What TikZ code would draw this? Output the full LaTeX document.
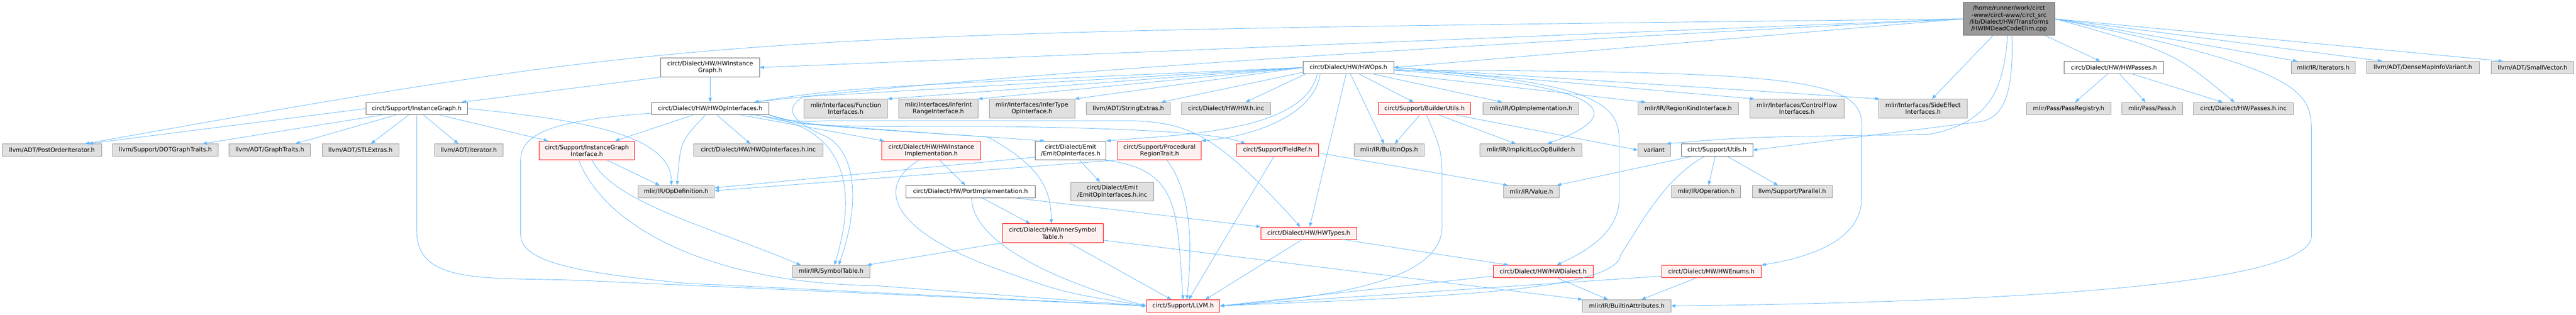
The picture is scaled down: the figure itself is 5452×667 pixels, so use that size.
\documentclass[tikz,border=0pt]{standalone}
\usepackage{fontspec}
\setmainfont{DejaVu Sans}
\usetikzlibrary{arrows.meta}

\definecolor{edgeblue}{HTML}{63B8FF}
\definecolor{boxgray}{HTML}{E0E0E0}
\definecolor{linegray}{HTML}{999999}
\definecolor{darkline}{HTML}{666666}
\definecolor{pinkfill}{HTML}{FFF0F0}

\begin{document}
\begin{tikzpicture}[x=1pt, y=-1pt,
    font=\fontsize{12.6}{14.5}\selectfont,
    hbox/.style={draw, rectangle, align=center, inner xsep=3pt, inner ysep=2pt, minimum height=26pt, line width=1pt},
    gbox/.style={hbox, draw=linegray, fill=boxgray},
    wbox/.style={hbox, draw=darkline, fill=white},
    rbox/.style={hbox, draw=red, fill=pinkfill},
    mbox/.style={hbox, draw=darkline, fill=linegray, minimum height=70pt},
    two/.style={minimum height=40pt},
    incl/.style={draw=edgeblue, line width=0.9pt, -{Triangle[length=9pt, width=7pt]}}]

    \useasboundingbox (0,0) rectangle (5452,667);

    % source file
    \node[mbox, minimum width=195pt] (DCE) at (4252,40) {/home/runner/work/circt\\-www/circt-www/circt\_src\\/lib/Dialect/HW/Transforms\\/HWIMDeadCodeElim.cpp};

    % first level
    \node[wbox, two, minimum width=209pt] (HIG) at (1503,143) {circt/Dialect/HW/HWInstance\\Graph.h};
    \node[wbox, minimum width=191pt] (HO) at (2854,143) {circt/Dialect/HW/HWOps.h};
    \node[wbox, minimum width=211pt] (HP) at (4474,143) {circt/Dialect/HW/HWPasses.h};
    \node[gbox, minimum width=136pt] (IT) at (4917,143) {mlir/IR/Iterators.h};
    \node[gbox, minimum width=239pt] (DMV) at (5128,143) {llvm/ADT/DenseMapInfoVariant.h};
    \node[gbox, minimum width=175pt] (SV) at (5360,143) {llvm/ADT/SmallVector.h};

    % second level
    \node[wbox, minimum width=214pt] (IG) at (882,230) {circt/Support/InstanceGraph.h};
    \node[wbox, minimum width=249pt] (HOI) at (1503,230) {circt/Dialect/HW/HWOpInterfaces.h};
    \node[gbox, two, minimum width=176pt] (FI) at (1790,230) {mlir/Interfaces/Function\\Interfaces.h};
    \node[gbox, two, minimum width=168pt] (IIR) at (1986,230) {mlir/Interfaces/InferInt\\RangeInterface.h};
    \node[gbox, two, minimum width=181pt] (ITO) at (2184,230) {mlir/Interfaces/InferType\\OpInterface.h};
    \node[gbox, minimum width=177pt] (SX) at (2388,230) {llvm/ADT/StringExtras.h};
    \node[gbox, minimum width=188pt] (HINC) at (2595,230) {circt/Dialect/HW/HW.h.inc};
    \node[rbox, minimum width=196pt] (BU) at (3015,230) {circt/Support/BuilderUtils.h};
    \node[gbox, minimum width=203pt] (OPI) at (3240,230) {mlir/IR/OpImplementation.h};
    \node[gbox, minimum width=213pt] (RKI) at (3573,230) {mlir/IR/RegionKindInterface.h};
    \node[gbox, two, minimum width=199pt] (CFI) at (3803,230) {mlir/Interfaces/ControlFlow\\Interfaces.h};
    \node[gbox, two, minimum width=187pt] (SEI) at (4070,230) {mlir/Interfaces/SideEffect\\Interfaces.h};
    \node[gbox, minimum width=179pt] (PR) at (4378,230) {mlir/Pass/PassRegistry.h};
    \node[gbox, minimum width=128pt] (PS) at (4555,230) {mlir/Pass/Pass.h};
    \node[gbox, minimum width=211pt] (PINC) at (4748,230) {circt/Dialect/HW/Passes.h.inc};

    % third level
    \node[gbox, minimum width=211pt] (POI) at (110,318) {llvm/ADT/PostOrderIterator.h};
    \node[gbox, minimum width=223pt] (DGT) at (350,318) {llvm/Support/DOTGraphTraits.h};
    \node[gbox, minimum width=172pt] (GT) at (571,318) {llvm/ADT/GraphTraits.h};
    \node[gbox, minimum width=163pt] (STL) at (763,318) {llvm/ADT/STLExtras.h};
    \node[gbox, minimum width=145pt] (ITR) at (992,318) {llvm/ADT/iterator.h};
    \node[rbox, two, minimum width=202pt] (IGI) at (1242,319) {circt/Support/InstanceGraph\\Interface.h};
    \node[gbox, minimum width=273pt] (HOINC) at (1605,318) {circt/Dialect/HW/HWOpInterfaces.h.inc};
    \node[rbox, two, minimum width=210pt] (HII) at (1971,319) {circt/Dialect/HW/HWInstance\\Implementation.h};
    \node[wbox, two, minimum width=150pt] (EOI) at (2266,319) {circt/Dialect/Emit\\/EmitOpInterfaces.h};
    \node[rbox, two, minimum width=177pt] (PRT) at (2454,319) {circt/Support/Procedural\\RegionTrait.h};
    \node[rbox, minimum width=173pt] (FR) at (2704,318) {circt/Support/FieldRef.h};
    \node[gbox, minimum width=149pt] (BO) at (2940,318) {mlir/IR/BuiltinOps.h};
    \node[gbox, minimum width=215pt] (ILB) at (3240,318) {mlir/IR/ImplicitLocOpBuilder.h};
    \node[gbox, minimum width=68pt] (VAR) at (3501,318) {variant};
    \node[wbox, minimum width=151pt] (UT) at (3634,318) {circt/Support/Utils.h};

    % fourth level
    \node[gbox, minimum width=162pt] (OD) at (1431,406) {mlir/IR/OpDefinition.h};
    \node[wbox, minimum width=274pt] (PI) at (2054,406) {circt/Dialect/HW/PortImplementation.h};
    \node[gbox, two, minimum width=175pt] (EINC) at (2354,406) {circt/Dialect/Emit\\/EmitOpInterfaces.h.inc};
    \node[gbox, minimum width=117pt] (VAL) at (3241,406) {mlir/IR/Value.h};
    \node[gbox, minimum width=146pt] (OP) at (3611,406) {mlir/IR/Operation.h};
    \node[gbox, minimum width=169pt] (PAR) at (3793,406) {llvm/Support/Parallel.h};

    % lower levels
    \node[rbox, two, minimum width=214pt] (IST) at (2228,494) {circt/Dialect/HW/InnerSymbol\\Table.h};
    \node[rbox, minimum width=203pt] (HT) at (2770,494) {circt/Dialect/HW/HWTypes.h};
    \node[gbox, minimum width=164pt] (ST) at (1759,575) {mlir/IR/SymbolTable.h};
    \node[rbox, minimum width=212pt] (HD) at (3266,575) {circt/Dialect/HW/HWDialect.h};
    \node[rbox, minimum width=211pt] (HE) at (3622,575) {circt/Dialect/HW/HWEnums.h};
    \node[rbox, minimum width=155pt] (LL) at (2504,648) {circt/Support/LLVM.h};
    \node[gbox, minimum width=187pt] (BA) at (3443,648) {mlir/IR/BuiltinAttributes.h};

    % includes of the source file
    \draw[incl] (DCE.west) .. controls (1500,70) and (1500,70) .. ([xshift=70pt]POI.north);
    \draw[incl] (DCE.west) -- (HIG.east);
    \draw[incl] (DCE.west) -- (HO.east);
    \draw[incl] (DCE.west) .. controls (2700,115) and (2000,170) .. ([xshift=93pt]HOI.north);
    \draw[incl] (DCE) -- (HP);
    \draw[incl] (DCE.east) .. controls (4600,110) .. ([xshift=-19pt]PINC.north);
    \draw[incl] (DCE.east) -- ([xshift=-55pt]IT.north);
    \draw[incl] (DCE.east) -- ([xshift=-86pt]DMV.north);
    \draw[incl] (DCE.east) -- ([xshift=-63pt]SV.north);
    \draw[incl] ([xshift=-34pt]DCE.south) -- ([xshift=19pt]SEI.north);
    \draw[incl] ([xshift=-3pt]DCE.south) .. controls (4240,180) and (4220,260) .. (4080,285) .. controls (3700,290) .. ([xshift=26pt]VAR.north);
    \draw[incl] ([xshift=6pt]DCE.south) .. controls (4262,200) and (4240,250) .. (4190,258) -- (UT.east);
    \draw[incl] (DCE.east) .. controls (4900,150) and (4892,200) .. (4892,290) -- (4892,500) .. controls (4892,600) and (4300,640) .. (BA.east);

    % HWInstanceGraph.h
    \draw[incl] (HIG.south west) -- ([xshift=95pt]IG.north);
    \draw[incl] (HIG) -- (HOI);

    % InstanceGraph.h
    \draw[incl] (IG.west) -- ([xshift=77pt]POI.north);
    \draw[incl] ([xshift=-73pt]IG.south) -- ([xshift=79pt]DGT.north);
    \draw[incl] ([xshift=-44pt]IG.south) -- ([xshift=54pt]GT.north);
    \draw[incl] ([xshift=-17pt]IG.south) -- ([xshift=22pt]STL.north);
    \draw[incl] ([xshift=14pt]IG.south) -- ([xshift=-22pt]ITR.north);
    \draw[incl] ([xshift=48pt]IG.south) -- ([xshift=-82pt]IGI.north);
    \draw[incl] (IG.south) -- (882,490) .. controls (882,610) and (1050,585) .. (1250,595) -- (LL.west);
    \draw[incl] (IG.east) .. controls (1250,255) and (1420,290) .. ([xshift=-10pt]OD.north);

    % InstanceGraphInterface.h
    \draw[incl] ([xshift=43pt]IGI.south) -- ([xshift=-35pt]OD.north);
    \draw[incl] ([xshift=11pt]IGI.south) .. controls (1300,430) and (1500,480) .. ([xshift=-64pt]ST.north);
    \draw[incl] ([xshift=-17pt]IGI.south) .. controls (1280,480) and (1500,600) .. (1850,605) -- (LL.west);

    % HWOpInterfaces.h
    \draw[incl] ([xshift=-36pt]HOI.south) -- ([xshift=60pt]IGI.north);
    \draw[incl] ([xshift=-10pt]HOI.south) .. controls (1440,300) .. ([xshift=2pt]OD.north);
    \draw[incl] ([xshift=14pt]HOI.south) -- ([xshift=-17pt]HOINC.north);
    \draw[incl] ([xshift=64pt]HOI.south) -- ([xshift=-100pt]HII.north);
    \draw[incl] ([xshift=84pt]HOI.south) .. controls (1830,260) and (1800,450) .. ([xshift=7pt]ST.north);
    \draw[incl] (HOI.south east) .. controls (1700,265) .. (2090,290) .. controls (2200,350) and (2225,400) .. ([xshift=-3pt]IST.north);
    \draw[incl] (HOI.south east) .. controls (1680,258) .. (1750,256) -- (2400,256) .. controls (2520,260) and (2580,290) .. ([xshift=-18pt]HT.north);
    \draw[incl] ([xshift=100pt]HOI.south) .. controls (1700,268) .. (2100,268) .. controls (2500,272) and (2600,290) .. ([xshift=-68pt]FR.north);
    \draw[incl] (HOI.south east) .. controls (1680,262) .. ([xshift=-55pt]EOI.north);
    \draw[incl] ([yshift=-10pt]HOI.west) .. controls (1150,255) and (1102,290) .. (1102,340) -- (1102,498) .. controls (1102,560) and (1250,580) .. (1450,600) -- (LL.west);

    % HWInstanceImplementation.h and PortImplementation.h
    \draw[incl] ([xshift=18pt]HII.south) -- ([xshift=-11pt]PI.north);
    \draw[incl] ([xshift=-26pt]HII.south) .. controls (1860,390) and (1870,480) .. (2100,566) .. controls (2250,620) .. (LL.west);
    \draw[incl] ([xshift=25pt]PI.south) -- ([xshift=-48pt]IST.north);
    \draw[incl] ([xshift=95pt]PI.south) -- (HT.north west);
    \draw[incl] ([xshift=2pt]PI.south) .. controls (2060,520) and (2250,600) .. (LL.west);

    % EmitOpInterfaces.h, ProceduralRegionTrait.h, FieldRef.h
    \draw[incl] ([yshift=-14pt]EOI.west) -- ([yshift=8pt]OD.east);
    \draw[incl] ([xshift=19pt]EOI.south) -- ([xshift=-26pt]EINC.north);
    \draw[incl] (EOI.south east) .. controls (2500,360) and (2490,450) .. (LL.north);
    \draw[incl] ([yshift=-20pt]PRT.west) -- ([yshift=2pt]OD.east);
    \draw[incl] ([xshift=16pt]PRT.south) .. controls (2530,420) and (2520,550) .. ([xshift=8pt]LL.north);
    \draw[incl] ([xshift=-8pt]FR.south) -- ([xshift=12pt]LL.north);
    \draw[incl] ([yshift=-6pt]FR.east) -- ([xshift=-50pt]VAL.north);

    % HWOps.h
    \draw[incl] (HO.west) .. controls (1800,185) .. ([xshift=93pt]HOI.north);
    \draw[incl] (HO.west) -- (FI.north east);
    \draw[incl] (HO.west) -- (IIR.north east);
    \draw[incl] (HO.west) -- (ITO.north east);
    \draw[incl] ([yshift=-10pt]HO.west) -- ([xshift=70pt]SX.north);
    \draw[incl] ([xshift=-90pt]HO.south) -- ([xshift=41pt]HINC.north);
    \draw[incl] ([xshift=-66pt]HO.south) .. controls (2760,280) and (2500,285) .. (EOI.north east);
    \draw[incl] ([xshift=-60pt]HO.south) .. controls (2780,250) and (2640,290) .. (PRT.north east);
    \draw[incl] (HO.west) -- (1700,205) .. controls (1660,230) and (1670,255) .. (1750,290) .. controls (1820,330) and (1815,450) .. ([xshift=16pt]ST.north);
    \draw[incl] ([xshift=-5pt]HO.south) -- ([xshift=2pt]HT.north);
    \draw[incl] ([xshift=4pt]HO.south) -- ([xshift=-11pt]BO.north);
    \draw[incl] ([xshift=22pt]HO.south) -- ([xshift=-23pt]BU.north);
    \draw[incl] ([xshift=51pt]HO.south) -- ([xshift=-61pt]OPI.north);
    \draw[incl] (HO.south east) -- ([xshift=-90pt]RKI.north);
    \draw[incl] ([yshift=-6pt]HO.east) .. controls (3350,175) and (3480,230) .. ([xshift=35pt]ILB.north);
    \draw[incl] ([yshift=-4pt]HO.east) .. controls (3400,170) and (3427,230) .. (3427,300) -- (3427,420) .. controls (3427,500) and (3340,540) .. ([xshift=29pt]HD.north);
    \draw[incl] (HO.east) -- ([xshift=-90pt]CFI.north);
    \draw[incl] (HO.east) -- ([xshift=-92pt]SEI.north);
    \draw[incl] ([yshift=-6pt]HO.east) .. controls (3850,150) and (3950,170) .. (3940,280) -- (3940,420) .. controls (3940,520) and (3800,550) .. (HE.north east);

    % BuilderUtils.h and Utils.h
    \draw[incl] ([xshift=-10pt]BU.south) -- ([xshift=12pt]BO.north);
    \draw[incl] ([xshift=30pt]BU.south) -- ([xshift=-32pt]ILB.north);
    \draw[incl] ([xshift=66pt]BU.south) -- (VAR.west);
    \draw[incl] ([xshift=4pt]BU.south) .. controls (3052,320) .. (3052,400) -- (3052,480) .. controls (3052,600) and (2800,630) .. (LL.east);
    \draw[incl] ([xshift=-4pt]UT.south) -- ([xshift=5pt]OP.north);
    \draw[incl] ([xshift=22pt]UT.south) -- ([xshift=-30pt]PAR.north);
    \draw[incl] ([xshift=-54pt]UT.south) -- ([xshift=54pt]VAL.north);
    \draw[incl] ([xshift=-27pt]UT.south) .. controls (3520,380) and (3470,480) .. (3430,540) .. controls (3420,620) and (3000,630) .. (LL.east);

    % InnerSymbolTable.h, HWTypes.h, HWDialect.h, HWEnums.h
    \draw[incl] (IST.south west) -- ([xshift=76pt]ST.north);
    \draw[incl] ([xshift=35pt]IST.south) -- ([xshift=-25pt]LL.north);
    \draw[incl] ([yshift=-15pt]IST.east) -- (BA.north west);
    \draw[incl] ([xshift=72pt]HT.south) -- ([xshift=-73pt]HD.north);
    \draw[incl] ([xshift=-14pt]HT.south) -- ([xshift=47pt]LL.north);
    \draw[incl] ([yshift=-10pt]HD.west) -- (LL.east);
    \draw[incl] ([xshift=29pt]HD.south) -- ([xshift=-40pt]BA.north);
    \draw[incl] ([yshift=-10pt]HE.west) -- (LL.east);
    \draw[incl] ([xshift=-31pt]HE.south) -- ([xshift=31pt]BA.north);

    % HWPasses.h
    \draw[incl] ([xshift=-13pt]HP.south) -- ([xshift=14pt]PR.north);
    \draw[incl] ([xshift=12pt]HP.south) -- ([xshift=-14pt]PS.north);
    \draw[incl] ([xshift=38pt]HP.south) -- ([xshift=-44pt]PINC.north);
\end{tikzpicture}
\end{document}
